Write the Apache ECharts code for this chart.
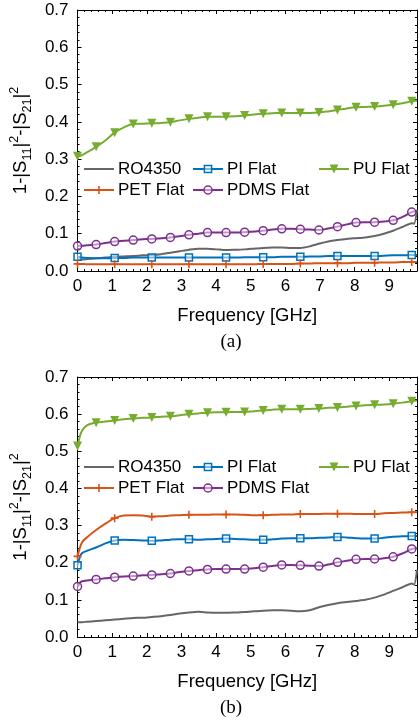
<!DOCTYPE html>
<html>
<head>
<meta charset="utf-8">
<script src="https://cdn.jsdelivr.net/npm/echarts@6/dist/echarts.min.js"></script>
<style>
  html, body { margin: 0; padding: 0; background: #fff; }
  #chart { width: 419px; height: 722px; }
</style>
</head>
<body>
<div id="chart"></div>
<script>
// frequency grid [GHz], shared by both panels
const freq = [0, 0.067, 0.134, 0.268, 0.536, 0.804, 1.072, 1.34, 1.608, 1.876, 2.144,
  2.412, 2.68, 2.948, 3.216, 3.484, 3.752, 4.02, 4.288, 4.556, 4.824, 5.092, 5.36,
  5.628, 5.896, 6.164, 6.432, 6.7, 6.968, 7.236, 7.504, 7.772, 8.04, 8.308, 8.576,
  8.844, 9.112, 9.38, 9.648, 9.72, 9.8];
// indices of freq where markers are drawn
const markFine = [0, 4, 6, 8, 10, 12, 14, 16, 18, 20, 22, 24, 26, 28, 30, 32, 34, 36, 38];
const markCoarse = [0, 6, 10, 14, 18, 22, 26, 30, 34, 38];

const xTicks = [0, 1, 2, 3, 4, 5, 6, 7, 8, 9];
const yTicks = [0, 0.1, 0.2, 0.3, 0.4, 0.5, 0.6, 0.7];

// (a)
const roA = [0.031, 0.031, 0.031, 0.032, 0.034, 0.036, 0.038, 0.039, 0.040, 0.042, 0.043,
  0.045, 0.049, 0.053, 0.057, 0.060, 0.060, 0.058, 0.056, 0.057, 0.058, 0.060, 0.062,
  0.063, 0.063, 0.062, 0.062, 0.066, 0.073, 0.079, 0.083, 0.086, 0.088, 0.090, 0.094,
  0.100, 0.108, 0.118, 0.128, 0.127, 0.163];
const piA = [0.038, 0.037, 0.036, 0.035, 0.034, 0.034, 0.035, 0.035, 0.036, 0.036, 0.036,
  0.036, 0.036, 0.036, 0.036, 0.036, 0.036, 0.036, 0.036, 0.036, 0.037, 0.037, 0.037,
  0.037, 0.038, 0.038, 0.038, 0.039, 0.039, 0.040, 0.040, 0.040, 0.040, 0.040, 0.040,
  0.041, 0.042, 0.042, 0.043, 0.043, 0.043];
const puA = [0.308, 0.309, 0.311, 0.318, 0.333, 0.350, 0.371, 0.385, 0.394, 0.395, 0.396,
  0.397, 0.399, 0.404, 0.408, 0.411, 0.414, 0.414, 0.414, 0.415, 0.417, 0.420, 0.422,
  0.423, 0.424, 0.424, 0.424, 0.424, 0.425, 0.428, 0.432, 0.436, 0.439, 0.440, 0.441,
  0.443, 0.446, 0.450, 0.455, 0.456, 0.457];
const petA = [0.019, 0.019, 0.019, 0.018, 0.018, 0.018, 0.018, 0.018, 0.018, 0.018, 0.018,
  0.018, 0.018, 0.018, 0.018, 0.018, 0.018, 0.018, 0.018, 0.018, 0.018, 0.018, 0.019,
  0.019, 0.019, 0.019, 0.020, 0.020, 0.021, 0.021, 0.021, 0.021, 0.022, 0.022, 0.022,
  0.023, 0.023, 0.024, 0.024, 0.024, 0.024];
const pdmsA = [0.067, 0.068, 0.068, 0.069, 0.071, 0.075, 0.079, 0.081, 0.083, 0.085, 0.086,
  0.088, 0.090, 0.093, 0.097, 0.100, 0.103, 0.103, 0.103, 0.103, 0.104, 0.106, 0.108,
  0.111, 0.113, 0.113, 0.112, 0.111, 0.110, 0.114, 0.119, 0.125, 0.130, 0.131, 0.131,
  0.133, 0.136, 0.145, 0.158, 0.160, 0.162];

// (b)
const roB = [0.040, 0.040, 0.040, 0.041, 0.043, 0.045, 0.047, 0.049, 0.051, 0.052, 0.054,
  0.056, 0.059, 0.063, 0.066, 0.068, 0.066, 0.065, 0.065, 0.066, 0.067, 0.069, 0.071,
  0.072, 0.072, 0.071, 0.069, 0.072, 0.080, 0.086, 0.091, 0.094, 0.097, 0.100, 0.106,
  0.114, 0.124, 0.134, 0.144, 0.141, 0.180];
const piB = [0.193, 0.215, 0.226, 0.232, 0.241, 0.252, 0.260, 0.262, 0.261, 0.260, 0.259,
  0.260, 0.262, 0.263, 0.263, 0.262, 0.263, 0.264, 0.265, 0.264, 0.263, 0.262, 0.262,
  0.263, 0.265, 0.266, 0.266, 0.266, 0.267, 0.268, 0.269, 0.268, 0.266, 0.265, 0.265,
  0.267, 0.270, 0.271, 0.272, 0.272, 0.272];
const puB = [0.514, 0.540, 0.556, 0.570, 0.577, 0.580, 0.583, 0.586, 0.588, 0.590, 0.591,
  0.593, 0.594, 0.597, 0.600, 0.602, 0.604, 0.605, 0.605, 0.606, 0.606, 0.608, 0.610,
  0.612, 0.613, 0.613, 0.613, 0.614, 0.615, 0.617, 0.618, 0.620, 0.622, 0.624, 0.625,
  0.626, 0.628, 0.631, 0.635, 0.636, 0.637];
const petB = [0.217, 0.240, 0.255, 0.268, 0.288, 0.305, 0.320, 0.327, 0.328, 0.327, 0.324,
  0.325, 0.327, 0.328, 0.329, 0.329, 0.329, 0.330, 0.330, 0.330, 0.329, 0.328, 0.328,
  0.329, 0.330, 0.330, 0.331, 0.331, 0.331, 0.332, 0.332, 0.332, 0.331, 0.331, 0.331,
  0.333, 0.334, 0.335, 0.336, 0.336, 0.336];
const pdmsB = [0.136, 0.146, 0.150, 0.152, 0.155, 0.158, 0.161, 0.163, 0.164, 0.166, 0.167,
  0.169, 0.171, 0.175, 0.178, 0.180, 0.182, 0.183, 0.183, 0.183, 0.183, 0.185, 0.188,
  0.191, 0.194, 0.194, 0.193, 0.192, 0.191, 0.195, 0.201, 0.205, 0.209, 0.210, 0.210,
  0.212, 0.216, 0.225, 0.237, 0.238, 0.239];

const FONT = '"Liberation Sans", Arial, sans-serif';
const plusPath = 'path://M4,0h2v4h4v2h-4v4h-2v-4h-4v-2h4z';

// style of each trace
const traces = {
  'RO4350':    { color: '#666666', symbol: 'none', size: 0, fill: '#666', border: 0, marks: null, smooth: 0.2 },
  'PI Flat':   { color: '#0072BD', symbol: 'rect', size: 7, fill: 'rgba(255,255,255,0.5)', border: 1.5, marks: markCoarse, smooth: 0.4 },
  'PU Flat':   { color: '#77AC30', symbol: 'triangle', size: 9, fill: '#77AC30', border: 0, marks: markFine, smooth: 0.4, rotate: 180 },
  'PET Flat':  { color: '#D95319', symbol: plusPath, size: 8, fill: '#D95319', border: 0, marks: markCoarse, smooth: 0.4 },
  'PDMS Flat': { color: '#7E2F8E', symbol: 'circle', size: 8, fill: 'rgba(255,255,255,0.5)', border: 1.5, marks: markFine, smooth: 0.4 }
};

const panels = [
  { top: 10, height: 261, label: '(a)', labelY: 342, legendRows: [169, 190],
    values: { 'RO4350': roA, 'PI Flat': piA, 'PU Flat': puA, 'PET Flat': petA, 'PDMS Flat': pdmsA } },
  { top: 377, height: 260, label: '(b)', labelY: 708, legendRows: [467, 488],
    values: { 'RO4350': roB, 'PI Flat': piB, 'PU Flat': puB, 'PET Flat': petB, 'PDMS Flat': pdmsB } }
];

// legend slots: [name, column left, row]
const legendSlots = [
  ['RO4350', 83, 0], ['PI Flat', 192, 0], ['PU Flat', 318, 0],
  ['PET Flat', 83, 1], ['PDMS Flat', 192, 1]
];

const tickStyle = { inside: true, length: 4, lineStyle: { color: '#000', width: 1 } };
const minorStyle = { show: true, splitNumber: 5, length: 2, lineStyle: { color: '#000', width: 1 } };
const lineStyle = { onZero: false, lineStyle: { color: '#000', width: 1 } };

const grid = [], xAxis = [], yAxis = [], series = [], legend = [], graphic = [];

panels.forEach((p, gi) => {
  grid.push({ left: 77, top: p.top, width: 340, height: p.height });

  const xBase = {
    type: 'value', gridIndex: gi, min: xTicks[0], max: 9.8, interval: 1,
    axisLine: lineStyle, axisTick: tickStyle, minorTick: minorStyle,
    splitLine: { show: false }
  };
  xAxis.push(Object.assign({}, xBase, {
    position: 'bottom',
    axisLabel: { color: '#000', fontSize: 17, fontFamily: FONT, margin: 7, showMaxLabel: false },
    name: 'Frequency [GHz]', nameLocation: 'middle', nameGap: 35,
    nameTextStyle: { color: '#000', fontSize: 18.5, fontFamily: FONT }
  }));
  xAxis.push(Object.assign({}, xBase, { position: 'top', axisLabel: { show: false } }));

  const yBase = {
    type: 'value', gridIndex: gi, min: yTicks[0], max: yTicks[yTicks.length - 1], interval: 0.1,
    axisLine: lineStyle, axisTick: tickStyle, minorTick: minorStyle,
    splitLine: { show: false }
  };
  yAxis.push(Object.assign({}, yBase, {
    position: 'left',
    axisLabel: { color: '#000', fontSize: 17, fontFamily: FONT, margin: 9,
      formatter: v => v.toFixed(1) },
    name: '1-|S{sub|11}|{sup|2}-|S{sub|21}|{sup|2}',
    nameLocation: 'middle', nameRotate: 90, nameGap: 43,
    nameTextStyle: {
      color: '#000', fontSize: 18.5, fontFamily: FONT, lineHeight: 26,
      rich: {
        sub: { fontSize: 12.5, fontFamily: FONT, color: '#000', verticalAlign: 'bottom', lineHeight: 12 },
        sup: { fontSize: 12.5, fontFamily: FONT, color: '#000', verticalAlign: 'top', lineHeight: 12 }
      }
    }
  }));
  yAxis.push(Object.assign({}, yBase, { position: 'right', axisLabel: { show: false } }));

  Object.keys(traces).forEach(name => {
    const t = traces[name];
    const ys = p.values[name];
    series.push({
      name, type: 'line', xAxisIndex: gi * 2, yAxisIndex: gi * 2,
      symbol: t.symbol, symbolSize: t.size, symbolRotate: t.rotate || 0,
      smooth: t.smooth, animation: false,
      lineStyle: { color: t.color, width: 2 },
      itemStyle: { color: t.fill, borderColor: t.color, borderWidth: t.border },
      emphasis: { disabled: true },
      data: freq.map((f, i) => {
        const item = { value: [f, ys[i]] };
        if (!t.marks || t.marks.indexOf(i) < 0) item.symbol = 'none';
        return item;
      })
    });
  });

  legendSlots.forEach(([name, left, row]) => {
    const t = traces[name];
    const ih = t.size ? Math.round(t.size / 0.8) : 10;
    legend.push({
      data: [name], left, top: p.legendRows[row] - 8.5, padding: 0,
      itemWidth: 30, itemHeight: ih, itemGap: 0, selectedMode: false,
      textStyle: { color: '#000', fontSize: 17, fontFamily: FONT, padding: [0, 0, 0, -1] },
      lineStyle: { color: t.color, width: 2 },
      itemStyle: t.symbol === 'none'
        ? { opacity: 0 }
        : { color: t.fill, borderColor: t.color, borderWidth: t.border }
    });
  });

  graphic.push({
    type: 'text', x: 231, y: p.labelY,
    style: { text: p.label, fill: '#000', fontSize: 19, fontFamily: '"Liberation Serif", "Times New Roman", serif',
      align: 'center', verticalAlign: 'middle' }
  });
});

const chart = echarts.init(document.getElementById('chart'));
chart.setOption({ animation: false, grid, xAxis, yAxis, series, legend, graphic });
</script>
</body>
</html>
